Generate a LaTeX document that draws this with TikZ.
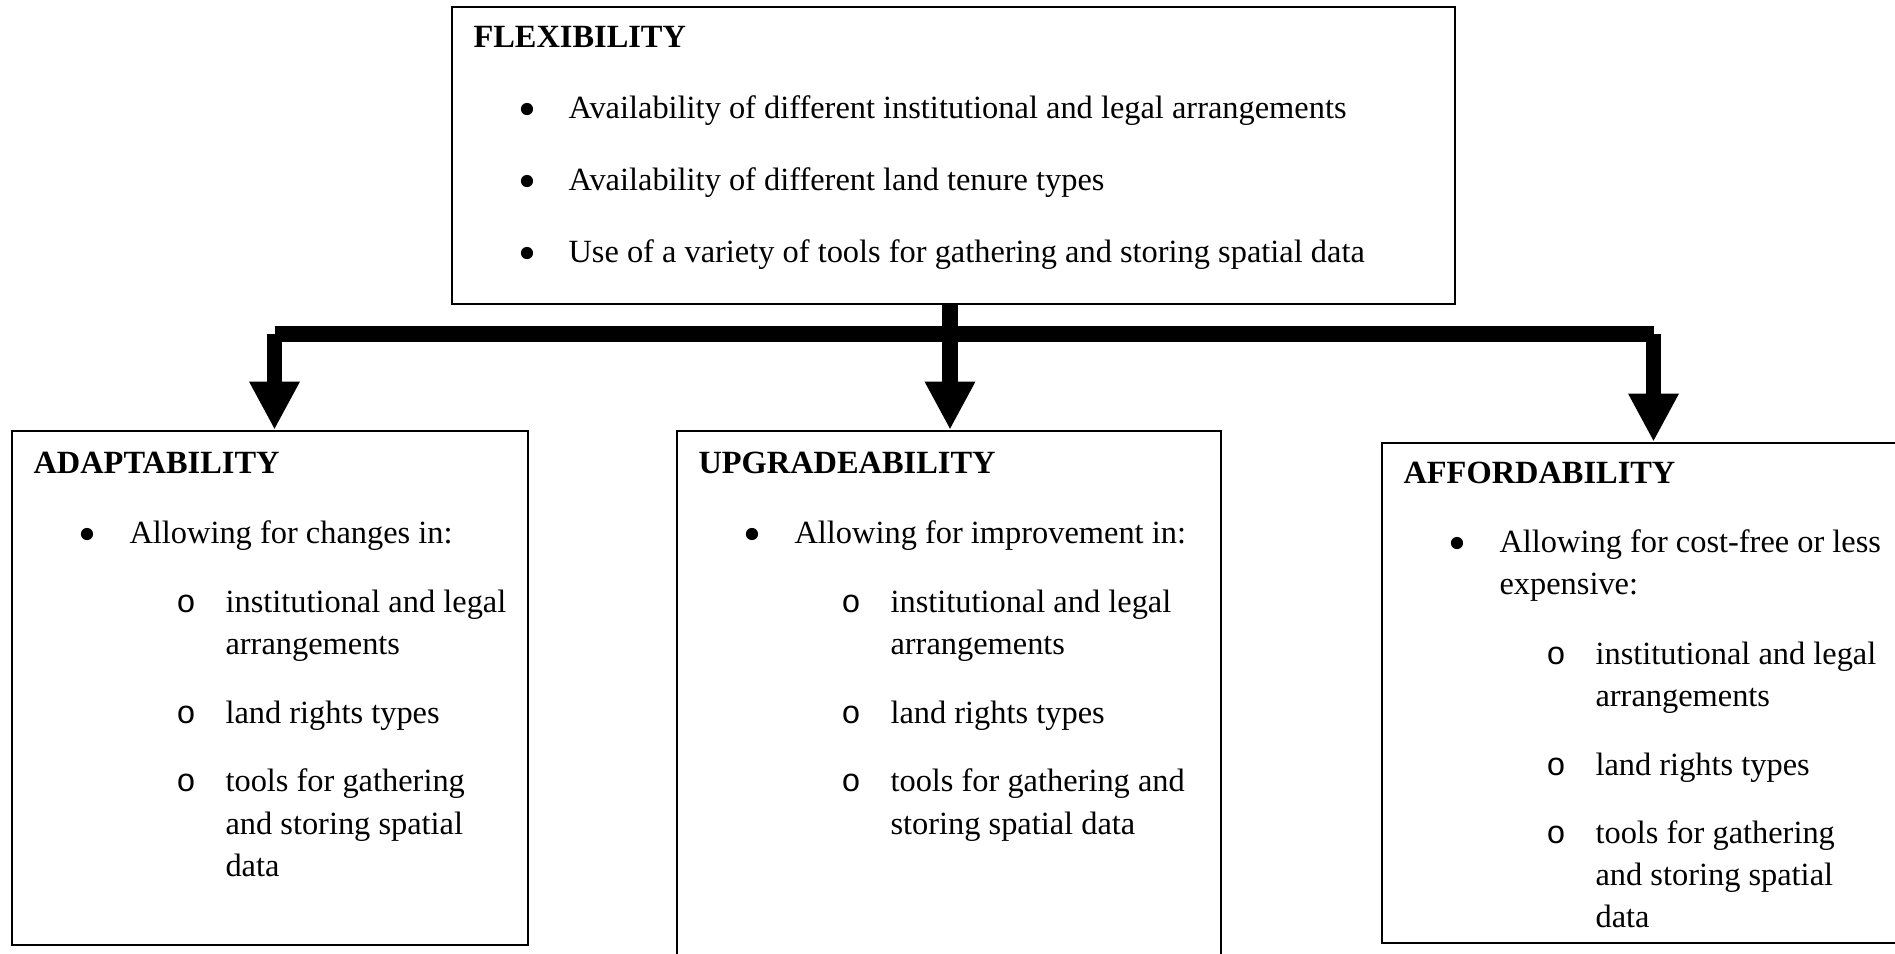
\documentclass[tikz,border=0pt]{standalone}
\usepackage{fontspec}
\setmainfont{Liberation Serif}
\newfontfamily\ringfont{Liberation Mono}
\usetikzlibrary{arrows.meta,fit}
\begin{document}
\begin{tikzpicture}[x=0.37037pt,y=-0.37037pt,
  panel/.style={draw, line width=0.9pt, inner sep=0pt},
  txt/.style={anchor=base west, inner sep=0pt, font=\fontsize{12}{14}\selectfont},
  head/.style={txt, font=\fontsize{12}{14}\selectfont\bfseries},
  dot/.style={anchor=center, inner sep=0pt, font=\fontsize{19}{20}\selectfont},
  ring/.style={anchor=base, inner sep=0pt, font=\fontsize{12}{14}\ringfont},
  flow/.style={line width=5.6pt, line cap=butt},
  tip/.style={-{Triangle[length=17.8pt,width=17.4pt]}}
]
\useasboundingbox (0,0) rectangle (1895,953);
\clip (0,0) rectangle (1895,953);

% boxes
\node[panel, fit={(452,7) (1455,304)}] (flex) {};
\node[panel, fit={(12,431) (528,945)}] (adapt) {};
\node[panel, fit={(677,431) (1221,990)}] (upg) {};
\node[panel, fit={(1382,443) (1930,943)}] (afford) {};

% top box
\node[head] (flexT) at (473,47) {FLEXIBILITY};
\node[dot] (flexB1) at (527,115) {•};
\node[txt] (flexL1) at (568,118) {Availability of different institutional and legal arrangements};
\node[dot] (flexB2) at (527,187) {•};
\node[txt] (flexL2) at (568,190) {Availability of different land tenure types};
\node[dot] (flexB3) at (527,259) {•};
\node[txt] (flexL3) at (568,262) {Use of a variety of tools for gathering and storing spatial data};

% adaptability
\node[head] (adaT) at (33,473) {ADAPTABILITY};
\node[dot] (adaB) at (87,540) {•};
\node[txt] (adaL) at (129,543) {Allowing for changes in:};
\node[ring] (adaR1) at (186,612) {o};
\node[txt] (adaS1a) at (225,612) {institutional and legal};
\node[txt] (adaS1b) at (225,654) {arrangements};
\node[ring] (adaR2) at (186,723) {o};
\node[txt] (adaS2) at (225,723) {land rights types};
\node[ring] (adaR3) at (186,791) {o};
\node[txt] (adaS3a) at (225,791) {tools for gathering};
\node[txt] (adaS3b) at (225,834) {and storing spatial};
\node[txt] (adaS3c) at (225,876) {data};

% upgradeability
\node[head] (upgT) at (698,473) {UPGRADEABILITY};
\node[dot] (upgB) at (752,540) {•};
\node[txt] (upgL) at (794,543) {Allowing for improvement in:};
\node[ring] (upgR1) at (851,612) {o};
\node[txt] (upgS1a) at (890,612) {institutional and legal};
\node[txt] (upgS1b) at (890,654) {arrangements};
\node[ring] (upgR2) at (851,723) {o};
\node[txt] (upgS2) at (890,723) {land rights types};
\node[ring] (upgR3) at (851,791) {o};
\node[txt] (upgS3a) at (890,791) {tools for gathering and};
\node[txt] (upgS3b) at (890,834) {storing spatial data};

% affordability
\node[head] (affT) at (1403,483) {AFFORDABILITY};
\node[dot] (affB) at (1457,549) {•};
\node[txt] (affLa) at (1499,552) {Allowing for cost-free or less};
\node[txt] (affLb) at (1499,594) {expensive:};
\node[ring] (affR1) at (1556,664) {o};
\node[txt] (affS1a) at (1595,664) {institutional and legal};
\node[txt] (affS1b) at (1595,706) {arrangements};
\node[ring] (affR2) at (1556,775) {o};
\node[txt] (affS2) at (1595,775) {land rights types};
\node[ring] (affR3) at (1556,843) {o};
\node[txt] (affS3a) at (1595,843) {tools for gathering};
\node[txt] (affS3b) at (1595,885) {and storing spatial};
\node[txt] (affS3c) at (1595,927) {data};

% connectors
\coordinate (hub) at (950,334);
\coordinate (lc) at (274.5,334);
\coordinate (rc) at (1653.5,334);
\draw[flow] (lc) -- (rc);
\draw[flow,tip] (flex.south -| hub) -- (upg.north -| hub);
\draw[flow,tip] (lc) -- (adapt.north -| lc);
\draw[flow,tip] (rc) -- (afford.north -| rc);
\end{tikzpicture}
\end{document}
